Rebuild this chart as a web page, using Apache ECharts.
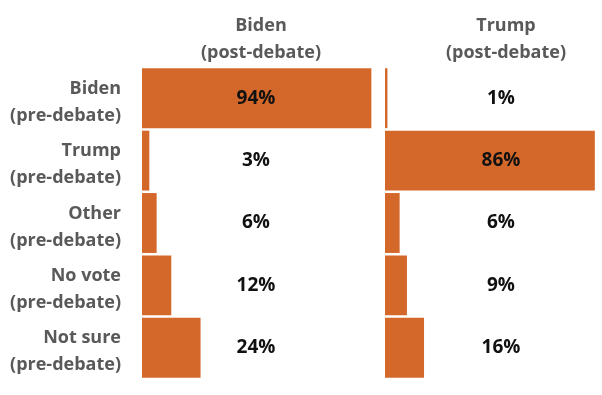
<!DOCTYPE html>
<html>
<head>
<meta charset="utf-8">
<script src="https://cdn.jsdelivr.net/npm/echarts@6/dist/echarts.min.js"></script>
<style>html,body{margin:0;padding:0;background:#fff;}#c{width:602px;height:395px;}</style>
</head>
<body>
<div id="c"></div>
<script>
const categories = ['Biden\n(pre-debate)', 'Trump\n(pre-debate)', 'Other\n(pre-debate)', 'No vote\n(pre-debate)', 'Not sure\n(pre-debate)'];
const columnTitles = ['Biden\n(post-debate)', 'Trump\n(post-debate)'];
const bidenPost = [94, 3, 6, 12, 24];
const trumpPost = [1, 86, 6, 9, 16];

const FONT = '"Open Sans", "Noto Sans", sans-serif';
const GREY = '#595959';
const ORANGE = '#D4682A';

const chart = echarts.init(document.getElementById('c'), null, {renderer: 'canvas'});

function valueLabel(offsetX) {
  return {
    show: true,
    position: [offsetX, '50%'],
    align: 'center',
    verticalAlign: 'middle',
    formatter: '{c}%',
    color: '#111',
    fontFamily: FONT,
    fontWeight: 'bold',
    fontSize: 19
  };
}

const catTextStyle = {color: GREY, fontFamily: FONT, fontWeight: 'bold', fontSize: 18, lineHeight: 27, align: 'right'};

chart.setOption({
  animation: false,
  backgroundColor: '#fff',
  title: [
    {text: columnTitles[0], left: 256, top: 7, textAlign: 'center',
     textStyle: {color: GREY, fontFamily: FONT, fontWeight: 'bold', fontSize: 18, lineHeight: 27}},
    {text: columnTitles[1], left: 501, top: 7, textAlign: 'center',
     textStyle: {color: GREY, fontFamily: FONT, fontWeight: 'bold', fontSize: 18, lineHeight: 27}}
  ],
  grid: [
    {left: 142, top: 67, width: 244, height: 312, outerBoundsMode: 'none', containLabel: false},
    {left: 385, top: 67, width: 244, height: 312, outerBoundsMode: 'none', containLabel: false}
  ],
  xAxis: [
    {type: 'value', gridIndex: 0, min: 0, max: 100, show: false},
    {type: 'value', gridIndex: 1, min: 0, max: 100, show: false}
  ],
  yAxis: [
    {type: 'category', gridIndex: 0, data: categories, inverse: true,
     axisLine: {show: false}, axisTick: {show: false}, splitLine: {show: false},
     axisLabel: {margin: 21, interval: 0, showMinLabel: true, showMaxLabel: true, hideOverlap: false,
       align: 'right',
       formatter: function (v) { const p = v.split('\n'); return '{t|' + p[0] + '}\n{u|' + p[1] + '}'; },
       rich: {
         t: Object.assign({}, catTextStyle, {padding: [8, 0, 0, 0]}),
         u: Object.assign({}, catTextStyle, {padding: [8, 0, 0, 0]})
       }}},
    {type: 'category', gridIndex: 1, data: categories, inverse: true,
     axisLine: {show: false}, axisTick: {show: false}, splitLine: {show: false},
     axisLabel: {show: false}}
  ],
  series: [
    {type: 'bar', xAxisIndex: 0, yAxisIndex: 0, data: bidenPost, barCategoryGap: '4%',
     itemStyle: {color: ORANGE}, label: valueLabel(114)},
    {type: 'bar', xAxisIndex: 1, yAxisIndex: 1, data: trumpPost, barCategoryGap: '4%',
     itemStyle: {color: ORANGE}, label: valueLabel(116)}
  ]
});
</script>
</body>
</html>
